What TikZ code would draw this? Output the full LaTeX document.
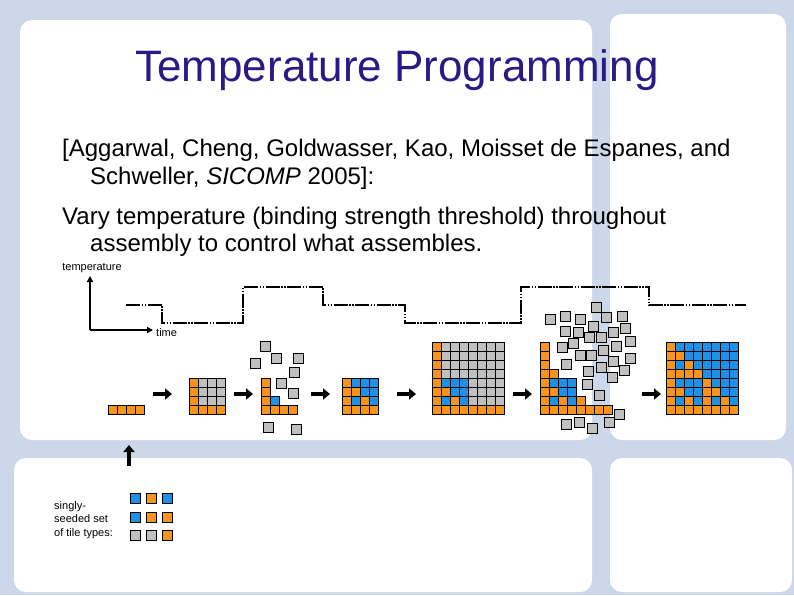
\documentclass[tikz,border=0pt]{standalone}
\usepackage{fontspec}
\setmainfont{Liberation Sans}
\usetikzlibrary{arrows.meta}
\definecolor{tor}{HTML}{F7941D}
\definecolor{tbl}{HTML}{1E90E6}
\definecolor{tgr}{HTML}{C0C0C0}
\definecolor{frame}{HTML}{CCD8EA}
\definecolor{titlec}{HTML}{2B1A86}
\newcommand\tileat[4]{\filldraw[tile,fill=#4] ({#1+9*#3},{414-9*#2}) rectangle ++(9,-9);}
\newcommand\sier[3]{%
 \pgfmathtruncatemacro\bb{mod(#2,2)*mod(#3,2)+mod(floor(#2/2),2)*mod(floor(#3/2),2)+floor(#2/4)*floor(#3/4)}%
 \ifnum\bb=0 \tileat{#1}{#2}{#3}{tor}\else\tileat{#1}{#2}{#3}{tbl}\fi}
\begin{document}
\begin{tikzpicture}[x=1pt,y=-1pt,
 tile/.style={draw=black,line width=0.8pt},
 loose/.style={draw=black,fill=tgr,line width=0.8pt,minimum size=10pt,inner sep=0pt},
 bigarrow/.style={line width=4pt,-{Triangle[length=7pt,width=11pt]}},
 temp/.style={line width=1.8pt,dash pattern=on 14pt off 1.5pt on 1.5pt off 1.5pt on 1.5pt off 1.5pt},
 axis/.style={line width=1.6pt,-{Triangle[length=6pt,width=6pt]}},
 body/.style={anchor=base west,inner sep=0pt,font=\fontsize{24}{28}\selectfont},
 small/.style={inner sep=0pt,font=\fontsize{11}{12}\selectfont}]
\useasboundingbox (0,0) rectangle (794,595);
\fill[frame] (0,0) rectangle (794,595);
\fill[white,rounded corners=12pt] (20,20) rectangle (592,440);
\fill[white,rounded corners=12pt] (610,14) rectangle (786,440);
\fill[white,rounded corners=12pt] (14,458) rectangle (592,592);
\fill[white,rounded corners=12pt] (610,458) rectangle (792,592);
% title
\node[text=titlec,font=\fontsize{44}{50}\selectfont,inner sep=0pt] (title) at (397,70) {Temperature Programming};
\node[body] (l1) at (62,156) {[Aggarwal, Cheng, Goldwasser, Kao, Moisset de Espanes, and};
\node[body] (l2) at (90,184) {Schweller, \textit{SICOMP} 2005]:};
\node[body] (l3) at (62,224) {Vary temperature (binding strength threshold) throughout};
\node[body] (l4) at (90,251) {assembly to control what assembles.};
% axes
\coordinate (o) at (90,330);
\coordinate (ty) at (90,276);
\coordinate (tx) at (153,330);
\draw[axis] (o) -- (ty);
\draw[axis] (o) -- (tx);
\node[small,anchor=south] (tlab) at (92,273) {temperature};
\node[small,anchor=west] (xlab) at (156,333) {time};
\draw[temp] (126,305) -- (162,305) -- (162,323) -- (243,323) -- (243,287) -- (323,287) -- (323,305) -- (405,305) -- (405,323) -- (521,323) -- (521,287) -- (649,287) -- (649,305) -- (746,305);
% grid A
\foreach \j in {0,...,3}{\tileat{108}{0}{\j}{tor}}
% grid B
\foreach \i in {0,...,3}{\foreach \j in {0,...,3}{%
 \pgfmathtruncatemacro\pp{\i*\j}\ifnum\pp=0 \tileat{189}{\i}{\j}{tor}\else\tileat{189}{\i}{\j}{tgr}\fi}}
% grid C
\foreach \i/\j in {0/0,1/0,2/0,3/0,0/1,1/1,0/2,0/3}{\sier{261}{\i}{\j}}
% grid D
\foreach \i in {0,...,3}{\foreach \j in {0,...,3}{\sier{342}{\i}{\j}}}
% grid E
\foreach \i in {0,...,7}{\foreach \j in {0,...,7}{%
 \pgfmathtruncatemacro\pp{(\i<4)*(\j<4)+(\i*\j==0)}\ifnum\pp>0 \sier{432}{\i}{\j}\else\tileat{432}{\i}{\j}{tgr}\fi}}
% grid F
\foreach \j/\h in {0/7,1/4,2/3,3/3,4/1,5/0,6/0,7/0}{\foreach \i in {0,...,\h}{\sier{540}{\i}{\j}}}
% grid G
\foreach \i in {0,...,7}{\foreach \j in {0,...,7}{\sier{666}{\i}{\j}}}
% loose tiles
\foreach \x/\y in {265/346,255/363,276/358,298/358,294/372,281/383,293/393,268/427,296/429,
 596/307,550/319,565/316,580/319,606/317,622/316,593/326,565/331,578/332,589/337,601/337,613/332,625/328,
 573/343,562/347,603/350,616/346,630/341,580/355,591/355,613/361,630/358,566/364,588/371,601/367,624/370,
 612/377,587/384,599/395,619/414,566/424,579/422,592/428,609/422}{\node[loose] at (\x,\y) {};}
% arrows
\foreach \a in {153,234,311,397,513,642}{\draw[bigarrow] (\a,394) -- ++(19,0);}
\coordinate (ua) at (129,466);
\coordinate (ub) at (129,445);
\draw[bigarrow] (ua) -- (ub);
% legend
\node[small,anchor=west,align=left,font=\fontsize{11}{13.5}\selectfont] (leg) at (54,520) {singly-\\seeded set\\of tile types:};
\foreach \x/\y/\c in {135/498/tbl,151/498/tor,167/498/tbl,135/517/tbl,151/517/tor,167/517/tor,135/535/tgr,151/535/tgr,167/535/tor}{\node[loose,fill=\c] at (\x,\y) {};}
\end{tikzpicture}
\end{document}
